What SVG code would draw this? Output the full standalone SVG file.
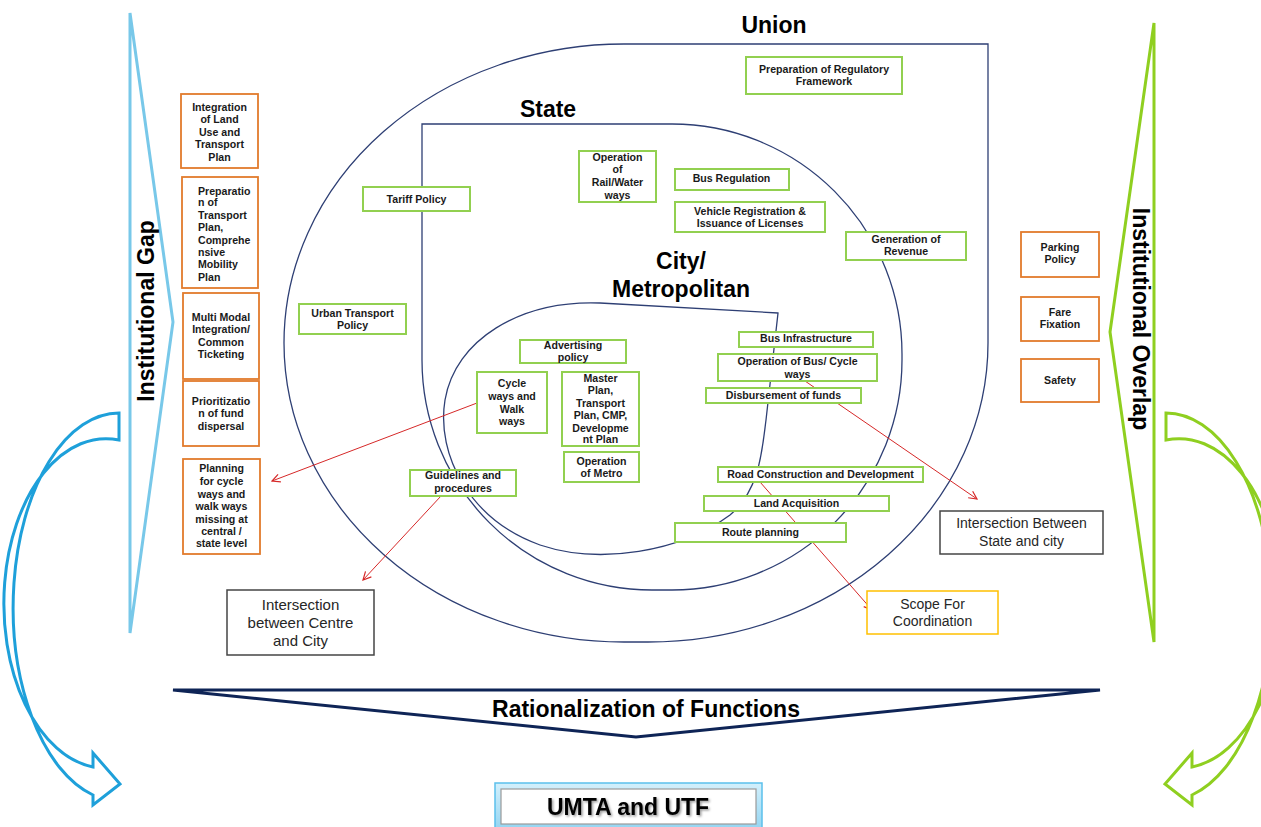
<svg xmlns="http://www.w3.org/2000/svg" width="1261" height="827" viewBox="0 0 1261 827">
<defs>
<style>
.ring{fill:none;stroke:#2E3F74;stroke-width:1.3}
.title{font-family:"Liberation Sans",Arial,sans-serif;font-weight:bold;font-size:23px;fill:#000;text-anchor:middle}
.lbl{font-family:"Liberation Sans",Arial,sans-serif;font-weight:bold;font-size:10.6px;fill:#1a1a1a;text-anchor:middle}
.lbll{font-family:"Liberation Sans",Arial,sans-serif;font-weight:bold;font-size:10.6px;fill:#1a1a1a;text-anchor:start}
.reg{font-family:"Liberation Sans",Arial,sans-serif;font-size:14px;fill:#262626;text-anchor:middle}
.gbox{fill:#fff;stroke:#92D050;stroke-width:2}
.obox{fill:#fff;stroke:#E27B2C;stroke-width:1.8}
.kbox{fill:#fff;stroke:#454545;stroke-width:1.5}
.ybox{fill:#fff;stroke:#FFC000;stroke-width:1.5}
.conn{fill:none;stroke:#D62828;stroke-width:1;marker-end:url(#ah)}
.blue{fill:#fff;stroke:#1EA0DA;stroke-width:3}
.green{fill:#fff;stroke:#8FCF20;stroke-width:3}
</style>
<marker id="ah" viewBox="0 0 10 10" refX="9" refY="5" markerWidth="10" markerHeight="10" markerUnits="userSpaceOnUse" orient="auto"><path d="M1,1 L9,5 L1,9" fill="none" stroke="#D62828" stroke-width="1.2"/></marker>
<linearGradient id="umtaGrad" x1="0" y1="0" x2="0" y2="1"><stop offset="0" stop-color="#D3F0FC"/><stop offset="1" stop-color="#8FD3F1"/></linearGradient>
<filter id="sh" x="-10%" y="-30%" width="130%" height="170%"><feDropShadow dx="1.5" dy="1.5" stdDeviation="1" flood-color="#000" flood-opacity="0.4"/></filter>
</defs>
<rect width="1261" height="827" fill="#fff"/>

<g id="union">
<path class="ring" d="M624,44 H988 V343 A340,299 0 0 1 648,642 H624 A340,299 0 0 1 284,343 A340,299 0 0 1 624,44 Z"/>
<text class="title" x="774" y="33">Union</text>
</g>
<g id="state">
<path class="ring" d="M422,124 H672 A230,230 0 0 1 902,354 V360 A230,230 0 0 1 672,590 H652 A230,230 0 0 1 422,360 Z"/>
<text class="title" x="548" y="117">State</text>
</g>
<g id="city">
<path class="ring" d="M778,313 L600,303 C520,300 455,340 445,400 C436,455 470,520 540,545 C600,565 680,552 730,515 C760,490 762,450 766,420 Z"/>
<text class="title" x="681" y="268.5">City/</text>
<text class="title" x="681" y="297">Metropolitan</text>
</g>

<g id="institutional-gap">
<polygon points="130,13 173,322 130,633" fill="none" stroke="#78C8E9" stroke-width="3" stroke-linejoin="miter"/>
<text class="title" transform="translate(154,311) rotate(-90)">Institutional Gap</text>
</g>
<g id="institutional-overlap">
<polygon points="1154,23 1110,332 1154,642" fill="none" stroke="#8FCF20" stroke-width="3" stroke-linejoin="miter"/>
<text class="title" transform="translate(1133,319) rotate(90)">Institutional Overlap</text>
</g>

<g id="curved-arrow-left">
<path class="blue" d="M119,413 A106,194 0 0 0 93,795 L93,805 L120,784 L93,753 L93,767 A101,163 0 0 1 119,440 Z"/>
</g>
<g id="curved-arrow-right">
<path class="green" d="M1166,413 A106,194 0 0 1 1192,795 L1192,805 L1165,784 L1192,753 L1192,767 A101,163 0 0 0 1166,440 Z"/>
</g>

<g id="rationalization">
<polygon points="173,690 1100,690 636,737" fill="#fff" stroke="#0E2456" stroke-width="3" stroke-linejoin="miter"/>
<text class="title" x="646" y="717">Rationalization of Functions</text>
</g>

<g id="connectors">
<line class="conn" x1="477" y1="403" x2="272" y2="481"/>
<line class="conn" x1="441" y1="496" x2="363" y2="580"/>
<line class="conn" x1="805" y1="381" x2="977" y2="499"/>
<line class="conn" x1="760" y1="482" x2="872" y2="610"/>
</g>

<g id="n-integration">
<rect class="obox" x="181" y="94" width="77" height="74"/>
<text class="lbl"><tspan x="219.5" y="111">Integration</tspan><tspan x="219.5" y="123">of Land</tspan><tspan x="219.5" y="136">Use and</tspan><tspan x="219.5" y="148">Transport</tspan><tspan x="219.5" y="161">Plan</tspan></text>
</g>
<g id="n-preparation-transport">
<rect class="obox" x="182" y="177" width="76" height="111"/>
<text class="lbll"><tspan x="198" y="195">Preparatio</tspan><tspan x="198" y="206">n of</tspan><tspan x="198" y="219">Transport</tspan><tspan x="198" y="231">Plan,</tspan><tspan x="198" y="244">Comprehe</tspan><tspan x="198" y="256">nsive</tspan><tspan x="198" y="268">Mobility</tspan><tspan x="198" y="281">Plan</tspan></text>
</g>
<g id="n-multimodal">
<rect class="obox" x="183" y="293" width="76" height="86"/>
<text class="lbl"><tspan x="221" y="320.5">Multi Modal</tspan><tspan x="221" y="333">Integration/</tspan><tspan x="221" y="345.5">Common</tspan><tspan x="221" y="358">Ticketing</tspan></text>
</g>
<g id="n-prioritization">
<rect class="obox" x="183" y="381" width="76" height="65"/>
<text class="lbl"><tspan x="221" y="404.5">Prioritizatio</tspan><tspan x="221" y="417">n of fund</tspan><tspan x="221" y="430">dispersal</tspan></text>
</g>
<g id="n-planning-cycle">
<rect class="obox" x="183" y="459" width="77" height="95"/>
<text class="lbl"><tspan x="221.5" y="472">Planning</tspan><tspan x="221.5" y="485">for cycle</tspan><tspan x="221.5" y="497.5">ways and</tspan><tspan x="221.5" y="510">walk ways</tspan><tspan x="221.5" y="523">missing at</tspan><tspan x="221.5" y="534.5">central /</tspan><tspan x="221.5" y="547">state level</tspan></text>
</g>

<g id="n-parking">
<rect class="obox" x="1021" y="232" width="78" height="45"/>
<text class="lbl"><tspan x="1060" y="251">Parking</tspan><tspan x="1060" y="263">Policy</tspan></text>
</g>
<g id="n-fare">
<rect class="obox" x="1021" y="297" width="78" height="44"/>
<text class="lbl"><tspan x="1060" y="316">Fare</tspan><tspan x="1060" y="328">Fixation</tspan></text>
</g>
<g id="n-safety">
<rect class="obox" x="1021" y="359" width="78" height="43"/>
<text class="lbl" x="1060" y="384">Safety</text>
</g>

<g id="n-regulatory">
<rect class="gbox" x="746" y="57" width="156" height="37"/>
<text class="lbl"><tspan x="824" y="73">Preparation of Regulatory</tspan><tspan x="824" y="85">Framework</tspan></text>
</g>
<g id="n-tariff">
<rect class="gbox" x="363" y="187" width="107" height="24"/>
<text class="lbl" x="416.5" y="203">Tariff Policy</text>
</g>
<g id="n-rail">
<rect class="gbox" x="579" y="151" width="77" height="51"/>
<text class="lbl"><tspan x="617.5" y="160.5">Operation</tspan><tspan x="617.5" y="173">of</tspan><tspan x="617.5" y="186">Rail/Water</tspan><tspan x="617.5" y="199">ways</tspan></text>
</g>
<g id="n-bus-regulation">
<rect class="gbox" x="675" y="169" width="114" height="21"/>
<text class="lbl" x="731.5" y="182">Bus Regulation</text>
</g>
<g id="n-vehicle">
<rect class="gbox" x="675" y="202" width="150" height="30"/>
<text class="lbl"><tspan x="750" y="214.5">Vehicle Registration &amp;</tspan><tspan x="750" y="226.5">Issuance of Licenses</tspan></text>
</g>
<g id="n-revenue">
<rect class="gbox" x="846" y="232" width="120" height="28"/>
<text class="lbl"><tspan x="906" y="243">Generation of</tspan><tspan x="906" y="255">Revenue</tspan></text>
</g>
<g id="n-urban-policy">
<rect class="gbox" x="299" y="304" width="107" height="30"/>
<text class="lbl"><tspan x="352.5" y="317">Urban Transport</tspan><tspan x="352.5" y="329">Policy</tspan></text>
</g>
<g id="n-advertising">
<rect class="gbox" x="520" y="340" width="106" height="23"/>
<text class="lbl"><tspan x="573" y="349">Advertising</tspan><tspan x="573" y="361">policy</tspan></text>
</g>
<g id="n-cycle-walk">
<rect class="gbox" x="477" y="372" width="70" height="61"/>
<text class="lbl"><tspan x="512" y="387">Cycle</tspan><tspan x="512" y="400">ways and</tspan><tspan x="512" y="412.5">Walk</tspan><tspan x="512" y="425">ways</tspan></text>
</g>
<g id="n-master-plan">
<rect class="gbox" x="562" y="372" width="77" height="74"/>
<text class="lbl"><tspan x="600.5" y="381.5">Master</tspan><tspan x="600.5" y="394">Plan,</tspan><tspan x="600.5" y="406.5">Transport</tspan><tspan x="600.5" y="419">Plan, CMP,</tspan><tspan x="600.5" y="431.5">Developme</tspan><tspan x="600.5" y="443">nt Plan</tspan></text>
</g>
<g id="n-metro">
<rect class="gbox" x="564" y="452" width="75" height="30"/>
<text class="lbl"><tspan x="601.5" y="465">Operation</tspan><tspan x="601.5" y="477">of Metro</tspan></text>
</g>
<g id="n-guidelines">
<rect class="gbox" x="410" y="470" width="106" height="26"/>
<text class="lbl"><tspan x="463" y="479">Guidelines and</tspan><tspan x="463" y="492">procedures</tspan></text>
</g>
<g id="n-bus-infra">
<rect class="gbox" x="739" y="332" width="134" height="15"/>
<text class="lbl" x="806" y="342">Bus Infrastructure</text>
</g>
<g id="n-bus-cycle-ops">
<rect class="gbox" x="718" y="354" width="159" height="27"/>
<text class="lbl"><tspan x="797.5" y="365">Operation of Bus/ Cycle</tspan><tspan x="797.5" y="377.5">ways</tspan></text>
</g>
<g id="n-disbursement">
<rect class="gbox" x="706" y="388" width="155" height="15"/>
<text class="lbl" x="783.5" y="399">Disbursement of funds</text>
</g>
<g id="n-road">
<rect class="gbox" x="718" y="467" width="205" height="15"/>
<text class="lbl" x="820.5" y="478">Road Construction and Development</text>
</g>
<g id="n-land">
<rect class="gbox" x="704" y="496" width="185" height="15"/>
<text class="lbl" x="796.5" y="507">Land Acquisition</text>
</g>
<g id="n-route">
<rect class="gbox" x="675" y="523" width="171" height="19"/>
<text class="lbl" x="760.5" y="536">Route planning</text>
</g>

<g id="n-intersection-state-city">
<rect class="kbox" x="940" y="511" width="163" height="43"/>
<text class="reg"><tspan x="1021.5" y="528">Intersection Between</tspan><tspan x="1021.5" y="546">State and city</tspan></text>
</g>
<g id="n-intersection-centre-city">
<rect class="kbox" x="227" y="590" width="147" height="65"/>
<text class="reg" style="font-size:15px"><tspan x="300.5" y="610">Intersection</tspan><tspan x="300.5" y="628">between Centre</tspan><tspan x="300.5" y="646">and City</tspan></text>
</g>
<g id="n-scope">
<rect class="ybox" x="867" y="591" width="131" height="43"/>
<text class="reg"><tspan x="932.5" y="609">Scope For</tspan><tspan x="932.5" y="626">Coordination</tspan></text>
</g>

<g id="n-umta">
<rect x="495" y="783" width="267" height="50" fill="url(#umtaGrad)" stroke="#5BC0EB" stroke-width="1.5"/>
<rect x="501" y="789" width="255" height="35" fill="#fff" stroke="#9A9A9A" stroke-width="1.2"/>
<text class="title" x="628" y="815" filter="url(#sh)">UMTA and UTF</text>
</g>
</svg>
